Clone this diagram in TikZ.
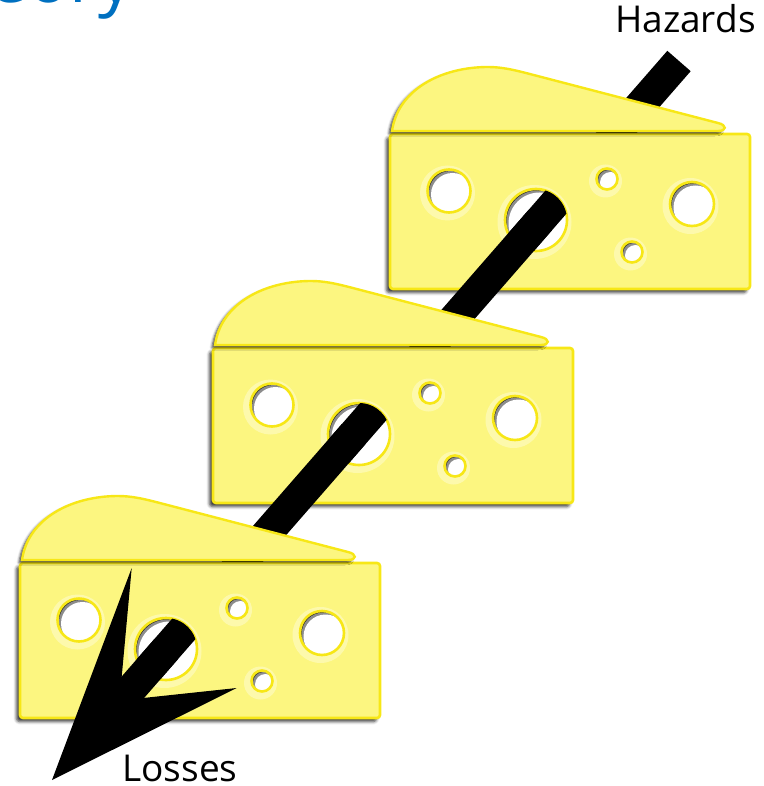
\documentclass[tikz,border=0pt]{standalone}
\usepackage{fontspec}
\setmainfont{Open Sans}
\usetikzlibrary{calc,shadows.blur}

\definecolor{cheesefill}{RGB}{252,246,128}
\definecolor{cheeseedge}{RGB}{247,231,22}
\definecolor{holehalo}{RGB}{254,251,188}
\definecolor{titleblue}{RGB}{0,112,192}

% one hole punched into a cheese block: halo, inner shadow, yellow rim
\newcommand\holeat[3]{%
  \fill[holehalo, opacity=.75] ({#1-1.5},{#2+2}) circle ({#3+6});
  \begin{scope}
    \clip (#1,#2) circle (#3);
    \fill[black!85] (#1,#2) circle (#3);
    \fill[black!45] ({#1+1.5},{#2+1.5}) circle (#3);
    \fill[white] ({#1+3.5},{#2+3.5}) circle (#3);
  \end{scope}
  \draw[cheeseedge, line width=2.6pt] (#1,#2) circle (#3);
}

\tikzset{
  cheesebody/.style={fill=cheesefill, draw=cheeseedge, line width=2.6pt,
    rounded corners=3pt,
    blur shadow={shadow xshift=-3.5pt, shadow yshift=-3.5pt,
                 shadow blur radius=3pt, shadow opacity=80}},
  cheesewedge/.style={fill=cheesefill, draw=cheeseedge, line width=2.4pt,
    blur shadow={shadow xshift=-3pt, shadow yshift=-2.5pt,
                 shadow blur radius=2.5pt, shadow opacity=80}},
  bar/.style={line width=31pt, black},
  tag/.style={font=\fontsize{37}{44}\selectfont, text=black, inner sep=0pt},
  cheese/.pic={
    \path[cheesebody] (0,0) rectangle (360,155);
    \foreach \hx/\hy/\hr in {59/57/21.5, 146/86/31, 217/45/10.5, 302/70/22, 242/118/10.5}
      {\holeat{\hx}{\hy}{\hr}}
    \path[cheesewedge] (2,-3) .. controls (8,-45) and (52,-67) .. (98,-67)
      .. controls (112,-67) and (124,-64) .. (136,-61) -- (328,-11)
      .. controls (337,-9) and (337,-3) .. (328,-3) -- cycle;
  }
}

\begin{document}
\begin{tikzpicture}[x=1pt, y=-1pt]
  \useasboundingbox (0,0) rectangle (763,786);

  % title, mostly above the page
  \node[font=\fontsize{70}{84}\selectfont, text=titleblue, anchor=base west,
        inner sep=0pt] (title) at (-12,2.5) {eory};

  % labels
  \node[tag, anchor=base west] (hazards) at (615,33) {Hazards};
  \node[tag, anchor=base west] (losses) at (122,781) {Losses};

  % the trajectory
  \coordinate (barTop) at (679,61);
  \coordinate (tip) at (52,780);
  \coordinate (h1) at ($(barTop)!0.2211!(tip)$);
  \coordinate (h2) at ($(barTop)!0.5188!(tip)$);
  \coordinate (h3) at ($(barTop)!0.8178!(tip)$);
  \coordinate (shaftEnd) at ($(barTop)!0.90!(tip)$);

  % cheese blocks
  \coordinate (c1) at (390,134);
  \coordinate (c2) at (213,348);
  \coordinate (c3) at (20,563);

  \draw[bar] (barTop) -- (h1);
  \pic at (c1) {cheese};
  \begin{scope}
    \clip ($(c1)+(146,86)$) circle (31);
    \draw[bar] (barTop) -- (tip);
  \end{scope}
  \draw[bar] (h1) -- (h2);

  \pic at (c2) {cheese};
  \begin{scope}
    \clip ($(c2)+(146,86)$) circle (31);
    \draw[bar] (barTop) -- (tip);
  \end{scope}
  \draw[bar] (h2) -- (h3);

  \pic at (c3) {cheese};
  \begin{scope}
    \clip ($(c3)+(146,86)$) circle (31);
    \draw[bar] (barTop) -- (tip);
  \end{scope}
  \draw[bar] (h3) -- (shaftEnd);

  % arrowhead
  \coordinate (barbL) at (131.7,568);
  \coordinate (notchL) at (121.7,676.7);
  \coordinate (notchR) at (143,698);
  \coordinate (barbR) at (236.7,688);
  \fill[black] (tip) -- (barbL) -- (notchL) -- (notchR) -- (barbR) -- cycle;
\end{tikzpicture}
\end{document}
